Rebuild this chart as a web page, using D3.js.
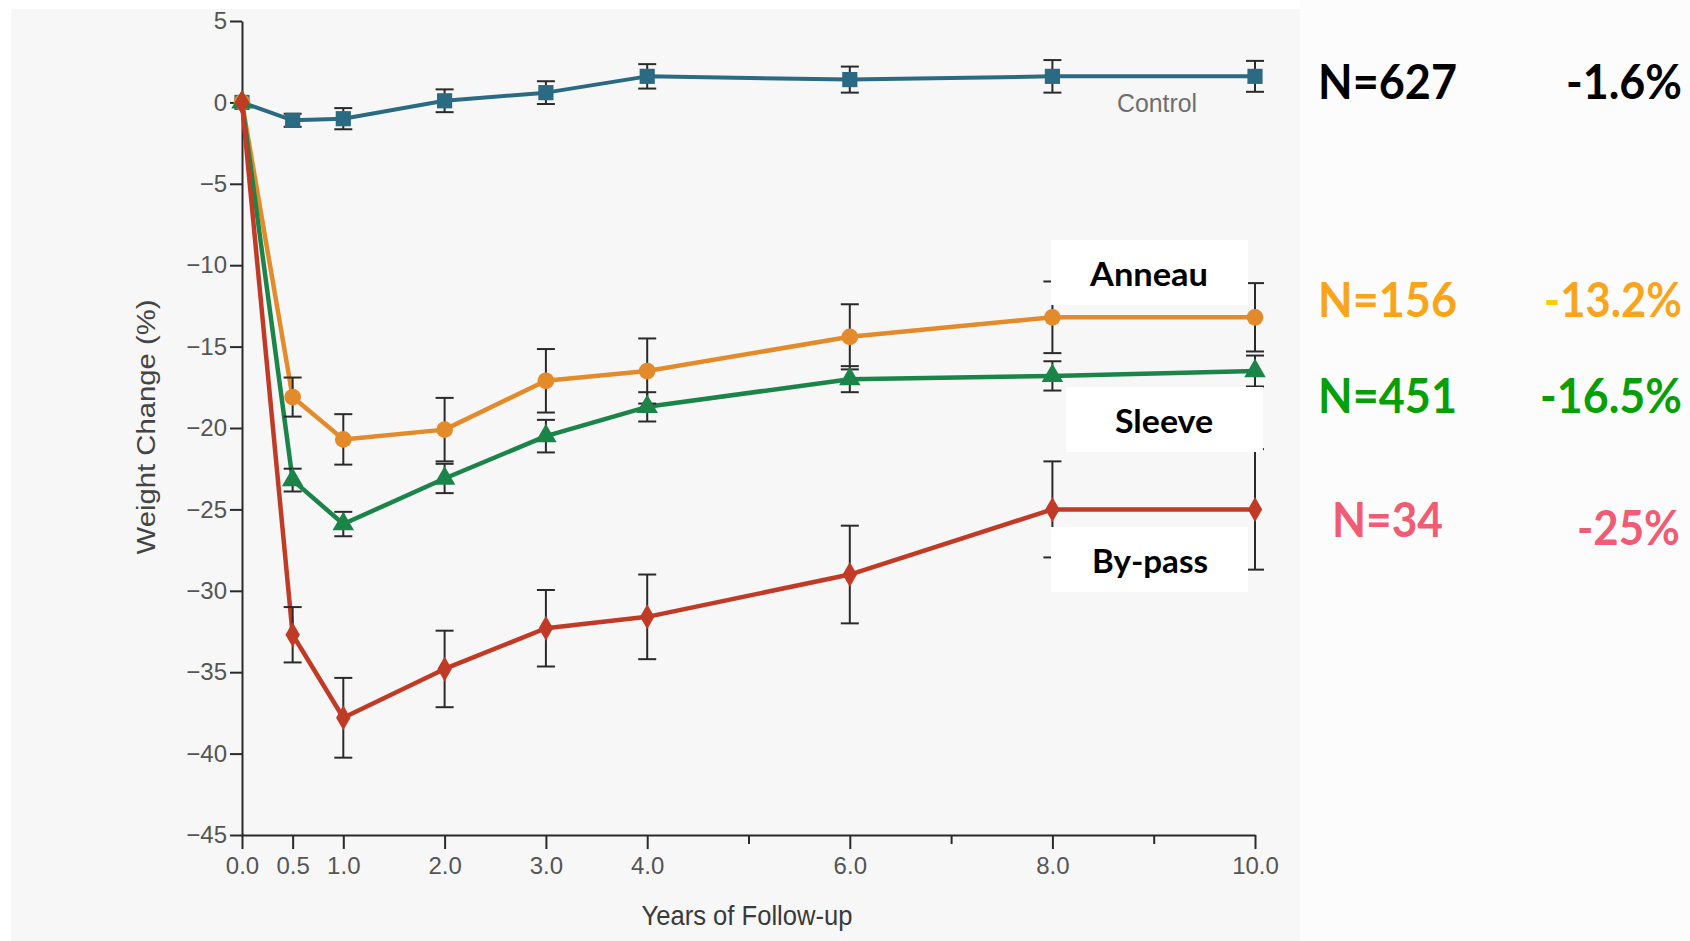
<!DOCTYPE html>
<html>
<head>
<meta charset="utf-8">
<script src="https://cdn.jsdelivr.net/npm/d3@7"></script>
<style>
  html, body { margin: 0; padding: 0; background: #ffffff; }
  svg { display: block; }
</style>
</head>
<body>
<svg id="chart" width="1690" height="941"></svg>
<script>
// Follow-up time points (years)
const years = [0, 0.5, 1, 2, 3, 4, 6, 8, 10];

// Mean weight change (%) per group, with half-width of the error bars
const control     = [0, -1.1, -1.0, 0.1, 0.6, 1.6, 1.4, 1.6, 1.6];
const controlErr  = [0, 0.4, 0.65, 0.7, 0.7, 0.75, 0.8, 1.0, 0.95];
const anneau      = [0, -18.1, -20.7, -20.1, -17.1, -16.5, -14.4, -13.2, -13.2];
const anneauErr   = [0, 1.2, 1.55, 1.95, 1.95, 2.0, 2.0, 2.2, 2.1];
const sleeve      = [0, -23.2, -25.9, -23.1, -20.5, -18.7, -17.0, -16.8, -16.5];
const sleeveErr   = [0, 0.7, 0.75, 0.9, 1.0, 0.9, 0.8, 0.9, 0.95];
const bypass      = [0, -32.7, -37.8, -34.8, -32.3, -31.6, -29.0, -25.0, -25.0];
const bypassErr   = [0, 1.7, 2.45, 2.35, 2.35, 2.6, 3.0, 2.95, 3.7];

// Axis ticks
const xTicks = [0, 0.5, 1, 2, 3, 4, 6, 8, 10];
const xMinorTicks = [5, 7, 9];
const yTicks = [5, 0, -5, -10, -15, -20, -25, -30, -35, -40, -45];

// Group annotations
const groupNames = ["Control", "Anneau", "Sleeve", "By-pass"];
const nLabels = ["N=627", "N=156", "N=451", "N=34"];
const pctLabels = ["-1.6%", "-13.2%", "-16.5%", "-25%"];

const svg = d3.select("#chart");
const W = 1690, H = 941;

// Panel backgrounds
svg.append("rect").attr("x", 0).attr("y", 0).attr("width", W).attr("height", H).attr("fill", "#fcfcfc");
svg.append("rect").attr("x", 0).attr("y", 0).attr("width", 1300).attr("height", 9).attr("fill", "#ffffff");
svg.append("rect").attr("x", 0).attr("y", 0).attr("width", 11).attr("height", H).attr("fill", "#ffffff");
svg.append("rect").attr("x", 11).attr("y", 9).attr("width", 1289).attr("height", H - 9).attr("fill", "#f7f7f7");

const x = d3.scaleLinear().domain([0, 10]).range([242, 1255]);
const y = d3.scaleLinear().domain([-45, 5]).range([835, 21]);

const tickFont = "'Liberation Sans', Arial, sans-serif";

// Y axis
const yAxis = svg.append("g")
  .attr("transform", `translate(${x(0)},0)`)
  .call(d3.axisLeft(y).tickValues(yTicks).tickSize(12).tickSizeOuter(0).tickPadding(3).tickFormat(d3.format("d")));
yAxis.select(".domain").attr("stroke", "#2a2a2a").attr("stroke-width", 2);
yAxis.selectAll(".tick line").attr("stroke", "#2a2a2a").attr("stroke-width", 2);
yAxis.selectAll(".tick text")
  .attr("font-family", tickFont).attr("font-size", 24).attr("fill", "#555");

// X axis (major labelled ticks)
const xAxis = svg.append("g")
  .attr("transform", `translate(0,${y(-45)})`)
  .call(d3.axisBottom(x).tickValues(xTicks).tickSize(14).tickSizeOuter(0).tickFormat(d3.format(".1f")));
xAxis.select(".domain").attr("stroke", "#2a2a2a").attr("stroke-width", 2);
xAxis.selectAll(".tick line").attr("stroke", "#2a2a2a").attr("stroke-width", 2);
xAxis.selectAll(".tick text")
  .attr("y", 22)
  .attr("font-family", tickFont).attr("font-size", 24).attr("fill", "#555");

// X axis minor ticks
svg.append("g")
  .attr("transform", `translate(0,${y(-45)})`)
  .call(d3.axisBottom(x).tickValues(xMinorTicks).tickSize(9).tickFormat(""))
  .call(g => g.select(".domain").remove())
  .selectAll(".tick line").attr("stroke", "#2a2a2a").attr("stroke-width", 2);

// Axis titles
svg.append("text")
  .attr("transform", `translate(155,427) rotate(-90)`)
  .attr("text-anchor", "middle")
  .attr("font-family", tickFont).attr("font-size", 25).attr("fill", "#444")
  .attr("textLength", 255).attr("lengthAdjust", "spacingAndGlyphs")
  .text("Weight Change (%)");

svg.append("text")
  .attr("x", 747).attr("y", 925)
  .attr("text-anchor", "middle")
  .attr("font-family", tickFont).attr("font-size", 27).attr("fill", "#3a3a3a")
  .attr("textLength", 211).attr("lengthAdjust", "spacingAndGlyphs")
  .text("Years of Follow-up");

// Series definitions (drawn bottom to top)
const series = [
  { name: groupNames[0], values: control, err: controlErr, color: "#2b6a83", symbol: d3.symbolSquare,   size: 230, width: 4 },
  { name: groupNames[1], values: anneau,  err: anneauErr,  color: "#e38a2b", symbol: d3.symbolCircle,   size: 220, width: 4.5 },
  { name: groupNames[2], values: sleeve,  err: sleeveErr,  color: "#1b8449", symbol: d3.symbolTriangle, size: 200, width: 4.5 },
  { name: groupNames[3], values: bypass,  err: bypassErr,  color: "#c13a26", symbol: d3.symbolDiamond,  size: 180, width: 4.5 }
];

const line = d3.line().x(d => x(d.t)).y(d => y(d.v));
const pts = s => years.map((t, i) => ({ t, v: s.values[i], e: s.err[i] }));

// Lines
svg.append("g").selectAll("path")
  .data(series).join("path")
  .attr("d", s => line(pts(s)))
  .attr("fill", "none")
  .attr("stroke", s => s.color)
  .attr("stroke-width", s => s.width)
  .attr("stroke-linejoin", "round");

// Error bars
const capHalf = 9;
const eb = svg.append("g").attr("stroke", "#2a2a2a").attr("stroke-width", 2);
series.forEach(s => {
  pts(s).filter(d => d.e > 0).forEach(d => {
    const cx = x(d.t), y1 = y(d.v + d.e), y2 = y(d.v - d.e);
    eb.append("line").attr("x1", cx).attr("x2", cx).attr("y1", y1).attr("y2", y2);
    eb.append("line").attr("x1", cx - capHalf).attr("x2", cx + capHalf).attr("y1", y1).attr("y2", y1);
    eb.append("line").attr("x1", cx - capHalf).attr("x2", cx + capHalf).attr("y1", y2).attr("y2", y2);
  });
});

// Markers
series.forEach(s => {
  svg.append("g").selectAll("path")
    .data(pts(s)).join("path")
    .attr("transform", d => `translate(${x(d.t)},${y(d.v)})`)
    .attr("d", d3.symbol().type(s.symbol).size(s.size))
    .attr("fill", s.color);
});

// Inline label for the control curve
svg.append("text")
  .attr("x", 1117).attr("y", 112)
  .attr("font-family", tickFont).attr("font-size", 25).attr("fill", "#6e6e6e")
  .attr("textLength", 80).attr("lengthAdjust", "spacingAndGlyphs")
  .text(groupNames[0]);

// Boxed group labels
const boldFont = "Lato, 'Open Sans', 'Noto Sans', sans-serif";
const boxes = [
  { label: groupNames[1], x0: 1051, y0: 240, w: 197, h: 65, cx: 1149, base: 286, len: 118 },
  { label: groupNames[2], x0: 1066, y0: 387, w: 197, h: 65, cx: 1164, base: 433, len: 98 },
  { label: groupNames[3], x0: 1051, y0: 527, w: 197, h: 65, cx: 1150, base: 573, len: 116 }
];
const bx = svg.append("g");
boxes.forEach(b => {
  bx.append("rect").attr("x", b.x0).attr("y", b.y0).attr("width", b.w).attr("height", b.h).attr("fill", "#ffffff");
  bx.append("text")
    .attr("x", b.cx).attr("y", b.base).attr("text-anchor", "middle")
    .attr("font-family", boldFont).attr("font-weight", 700).attr("font-size", 32).attr("fill", "#000")
    .attr("textLength", b.len).attr("lengthAdjust", "spacingAndGlyphs")
    .text(b.label);
});

// Sample sizes and 10-year weight change per group
const sideColors = ["#000000", "#f8a51c", "#06a006", "#ef5c74"];
const nPos = [
  { x: 1318, base: 99, len: 139 },
  { x: 1318, base: 317, len: 139 },
  { x: 1318, base: 413, len: 139 },
  { x: 1332, base: 537, len: 111 }
];
const pctPos = [
  { x: 1566, base: 99, len: 116 },
  { x: 1544, base: 317, len: 138 },
  { x: 1540, base: 413, len: 142 },
  { x: 1577, base: 545, len: 103 }
];
const side = svg.append("g")
  .attr("font-family", boldFont).attr("font-weight", 700).attr("font-size", 48);

// Place a text at (px, base), squeezed horizontally to span `len` pixels
function fitText(sel, px, base, len) {
  const natural = sel.node().getComputedTextLength();
  const sx = natural > 0 ? len / natural : 1;
  sel.attr("transform", `translate(${px},${base}) scale(${sx},1)`);
}

nLabels.forEach((t, i) => {
  const txt = side.append("text").attr("fill", sideColors[i]).text(t);
  fitText(txt, nPos[i].x, nPos[i].base, nPos[i].len);
});
pctLabels.forEach((t, i) => {
  const txt = side.append("text").attr("fill", sideColors[i]);
  if (i === 1) {
    // leading minus sign is set in a yellower tint
    txt.append("tspan").attr("fill", "#ffcc00").text(t.slice(0, 1));
    txt.append("tspan").text(t.slice(1));
  } else {
    txt.text(t);
  }
  fitText(txt, pctPos[i].x, pctPos[i].base, pctPos[i].len);
});
</script>
</body>
</html>
